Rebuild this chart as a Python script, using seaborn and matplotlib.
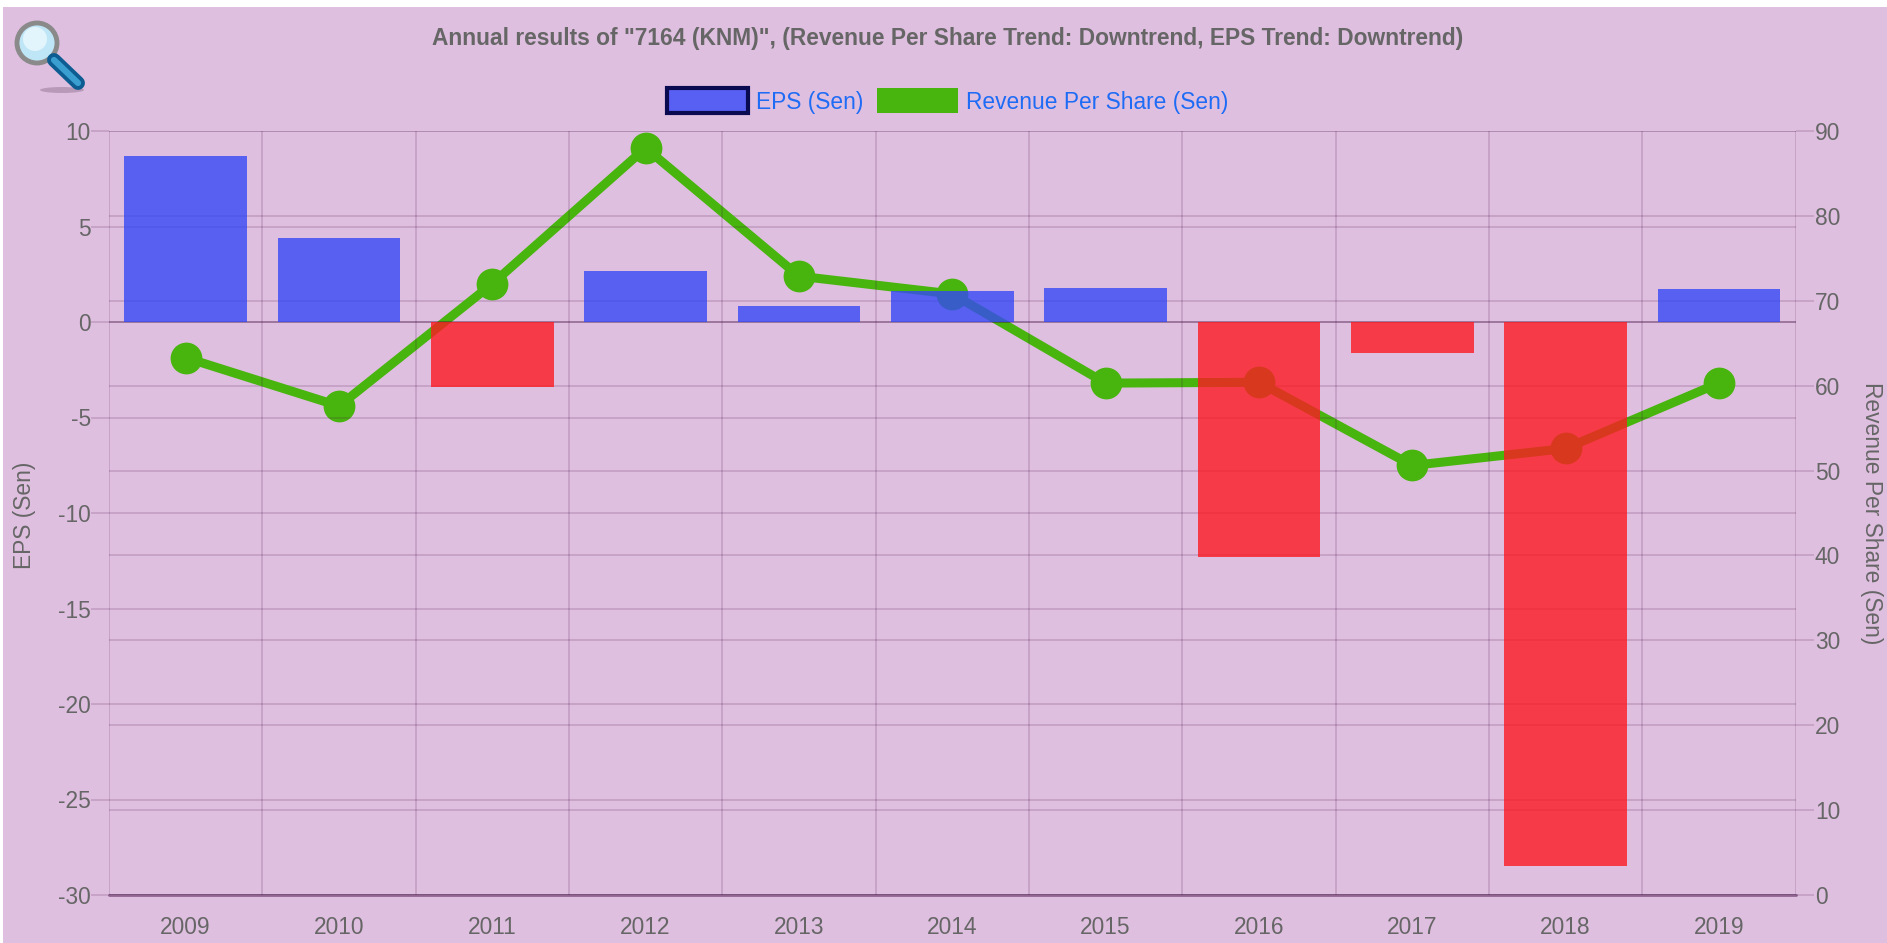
import matplotlib
matplotlib.use("Agg")
import matplotlib.pyplot as plt
import seaborn as sns
from matplotlib.patches import Patch, Rectangle, Circle, Ellipse
from matplotlib.ticker import FixedLocator

years = ["2009", "2010", "2011", "2012", "2013", "2014", "2015", "2016", "2017", "2018", "2019"]
eps = [8.7, 4.4, -3.4, 2.65, 0.85, 1.6, 1.8, -12.3, -1.6, -28.5, 1.75]
revenue = [63.3, 57.6, 72.0, 88.0, 72.9, 70.8, 60.3, 60.4, 50.6, 52.6, 60.3]
title = 'Annual results of "7164 (KNM)", (Revenue Per Share Trend: Downtrend, EPS Trend: Downtrend)'

BG = "#dfbfe0"
BLUE = "#3548f6"
RED = "#fd1921"
GREEN = "#48b40e"
TXT = "#666666"
GRID_RGB = (0.25, 0.05, 0.25)
GRID_ALPHA = 0.17
TICK = GRID_RGB + (GRID_ALPHA,)
FS = 16.4
W, H = 1887, 943

sns.set_theme(style="white")
plt.rcParams["font.family"] = ["Liberation Sans", "DejaVu Sans"]
plt.rcParams["axes.unicode_minus"] = False

fig = plt.figure(figsize=(W / 100, H / 100), dpi=100, facecolor="white")
fig.patches.append(Rectangle((3 / W, 0), 1, 1 - 7 / H, transform=fig.transFigure,
                             facecolor=BG, edgecolor="none", zorder=-10))

ax = fig.add_axes([109 / W, 1 - 895 / H, (1795.5 - 109) / W, (895 - 131) / H])
ax2 = ax.twinx()
ax.set_zorder(ax2.get_zorder() + 1)
ax.patch.set_visible(False)
ax2.patch.set_visible(False)

sns.pointplot(x=years, y=revenue, ax=ax2, color=GREEN, markers="o", markersize=18,
              linewidth=6.5, errorbar=None)
bar_colors = [BLUE if v >= 0 else RED for v in eps]
sns.barplot(x=years, y=eps, hue=years, palette=bar_colors, ax=ax, width=0.8,
            saturation=1, alpha=0.8, legend=False, errorbar=None, linewidth=0)

ax.set_xlim(-0.5, 10.5)
ax.set_ylim(-30, 10)
ax2.set_ylim(0, 90)
ax.set_yticks(range(-30, 11, 5))
ax2.set_yticks(range(0, 91, 10))
ax.xaxis.set_minor_locator(FixedLocator([i - 0.5 for i in range(12)]))

for a in (ax, ax2):
    a.set_axisbelow(True)
    a.grid(False)
    a.grid(axis="y", color=GRID_RGB, alpha=GRID_ALPHA, linewidth=1.3)
    for s in a.spines.values():
        s.set_visible(False)
ax.grid(axis="x", which="minor", color=GRID_RGB, alpha=GRID_ALPHA, linewidth=1.3)
ax.axhline(0, color=GRID_RGB, alpha=0.32, linewidth=1.3, zorder=0.5)
ax.axhline(-30, color=GRID_RGB, alpha=0.5, linewidth=2.0, zorder=0.5, clip_on=False)

ax.tick_params(axis="x", which="major", length=0, pad=15, labelsize=FS, labelcolor=TXT)
ax.tick_params(axis="x", which="minor", length=13, width=1.3, color=TICK)
ax.tick_params(axis="y", length=13, width=1.3, color=TICK, pad=0, labelsize=FS, labelcolor=TXT, left=True)
ax2.tick_params(axis="y", length=13, width=1.3, color=TICK, pad=1, labelsize=FS, labelcolor=TXT, right=True)
ax.set_xlabel("")
ax.set_ylabel("")
ax2.set_ylabel("")
ax2.set_xlabel("")

fig.text(25 / W, 1 - 515 / H, "EPS (Sen)", rotation=90, ha="center", va="center", fontsize=FS, color=TXT)
fig.text(1871 / W, 1 - 513 / H, "Revenue Per Share (Sen)", rotation=270, ha="center", va="center",
         fontsize=FS, color=TXT)
fig.text(948 / W, 1 - 38 / H, title, ha="center", va="center", fontsize=FS, fontweight="bold", color=TXT)

handles = [Patch(facecolor="#5760f2", edgecolor="#0a0a50", linewidth=3, label="EPS (Sen)"),
           Patch(facecolor=GREEN, edgecolor=GREEN, linewidth=0, label="Revenue Per Share (Sen)")]
fig.legend(handles=handles, loc="center", bbox_to_anchor=(948 / W, 1 - 101 / H), ncol=2, frameon=False,
           fontsize=FS, labelcolor="#1e6cf5", handlelength=3.55, handleheight=1.3,
           handletextpad=0.35, columnspacing=0.6)

# magnifier icon
icon = fig.add_axes([0, 1 - 100 / H, 100 / W, 100 / H])
icon.set_xlim(0, 100)
icon.set_ylim(100, 0)
icon.axis("off")
icon.add_patch(Ellipse((62, 90), 44, 6, facecolor="#a98aa8", edgecolor="none", alpha=0.7))
icon.plot([54, 78], [60, 83], color="#0d5c92", linewidth=10, solid_capstyle="round")
icon.plot([54, 78], [60, 83], color="#3a9fd0", linewidth=4.5, solid_capstyle="round")
icon.add_patch(Circle((37, 43), 20, facecolor="#bfe6f6", edgecolor="#8a8a8a", linewidth=3.5))
icon.add_patch(Circle((35, 39), 12, facecolor="#e3f5fc", edgecolor="none"))

fig.savefig("out.png", dpi=100, facecolor="white")
